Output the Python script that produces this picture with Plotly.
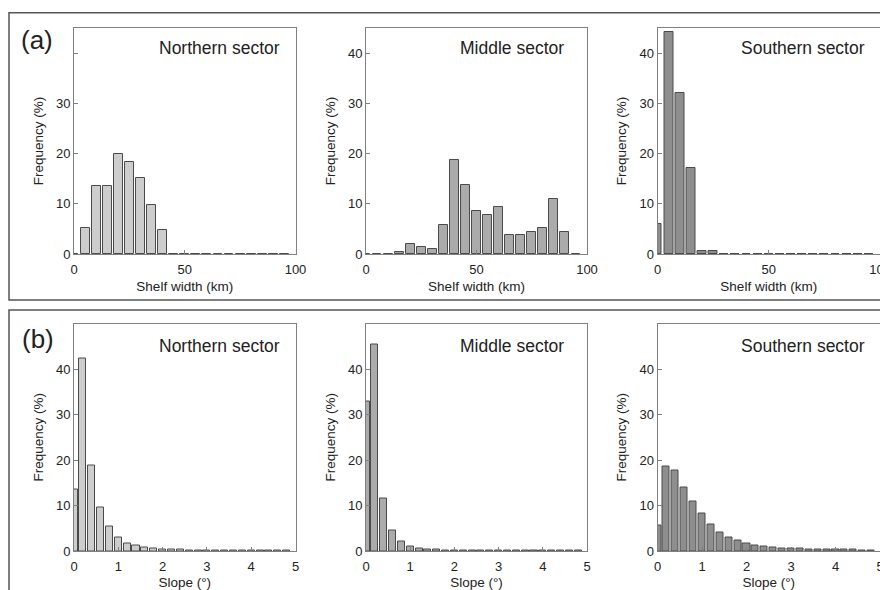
import plotly.graph_objects as go

# ---------------- data ----------------
width_bins = [0, 5, 10, 15, 20, 25, 30, 35, 40, 45, 50, 55, 60, 65, 70, 75, 80, 85, 90, 95]
north_width = [0, 5.1, 13.6, 13.6, 19.9, 18.3, 15.2, 9.7, 4.7, 0, 0, 0, 0, 0, 0, 0, 0, 0, 0, 0]
middle_width = [0, 0, 0.08, 0.35, 1.9, 1.4, 0.9, 5.7, 18.8, 13.7, 8.6, 7.7, 9.4, 3.7, 3.7, 4.3, 5.1, 10.9, 4.3, 0]
south_width = [6.0, 44.3, 32.0, 17.1, 0.5, 0.5, 0, 0, 0, 0, 0, 0, 0, 0, 0, 0, 0, 0, 0, 0]

slope_bins = [0.0, 0.2, 0.4, 0.6, 0.8, 1.0, 1.2, 1.4, 1.6, 1.8, 2.0, 2.2, 2.4, 2.6, 2.8,
              3.0, 3.2, 3.4, 3.6, 3.8, 4.0, 4.2, 4.4, 4.6, 4.8]
north_slope = [13.5, 42.4, 18.8, 9.6, 5.3, 3.0, 1.7, 1.2, 0.8, 0.55, 0.4, 0.3, 0.25, 0.2, 0.18,
               0.15, 0.12, 0.1, 0.1, 0.08, 0.07, 0.06, 0.05, 0.05, 0.04]
middle_slope = [32.8, 45.4, 11.5, 4.4, 2.1, 1.1, 0.6, 0.36, 0.25, 0.2, 0.15, 0.12, 0.1, 0.08, 0.07,
                0.06, 0.05, 0.05, 0.04, 0.04, 0.03, 0.03, 0.03, 0.02, 0.02]
south_slope = [5.5, 18.6, 17.7, 14.0, 10.9, 8.2, 5.8, 4.1, 3.0, 2.2, 1.75, 1.3, 1.0, 0.8, 0.66,
               0.5, 0.45, 0.4, 0.35, 0.3, 0.3, 0.25, 0.25, 0.2, 0.2]

sector_names = ["Northern sector", "Middle sector", "Southern sector"]
panel_labels = ["(a)", "(b)"]
width_title = "Shelf width (km)"
slope_title = "Slope (°)"
freq_title = "Frequency (%)"
width_ticks = [0, 50, 100]
slope_ticks = [0, 1, 2, 3, 4, 5]

# ---------------- styling ----------------
FONT = "Liberation Sans, Arial, sans-serif"
TXT = "#222222"
fills = ["#cdcdcd", "#ababab", "#8e8e8e"]
edge = "#4a4a4a"
frame = "#808080"

W, H = 880, 590
col_dom = [[74 / W, 295.5 / W], [366 / W, 587 / W], [657.5 / W, 1.0]]
row_dom = [[1 - 254 / H, 1 - 28 / H], [1 - 551 / H, 1 - 323.5 / H]]

fig = go.Figure()

top_data = [north_width, middle_width, south_width]
bot_data = [north_slope, middle_slope, south_slope]

idx = 0
for r in range(2):
    for c in range(3):
        idx += 1
        xa = "x" if idx == 1 else f"x{idx}"
        ya = "y" if idx == 1 else f"y{idx}"
        if r == 0:
            xs, ys, bw = width_bins, top_data[c], 4.0
        else:
            xs, ys, bw = slope_bins, bot_data[c], 0.16
        fig.add_trace(go.Bar(
            x=xs, y=ys, width=bw, xaxis=xa, yaxis=ya,
            marker=dict(color=fills[c], line=dict(color=edge, width=1)),
            showlegend=False, hoverinfo="x+y",
        ))
        key = "" if idx == 1 else str(idx)
        if r == 0:
            xr, xt, xtitle = [0, 100], width_ticks, width_title
            yr = [0, 45]
            if c == 0:
                yt, ytt = [0, 10, 20, 30, 40], ["0", "10", "20", "30", ""]
            else:
                yt, ytt = [0, 10, 20, 30, 40], ["0", "10", "20", "30", "40"]
        else:
            xr, xt, xtitle = [0, 5], slope_ticks, slope_title
            yr = [0, 50]
            yt, ytt = [0, 10, 20, 30, 40], ["0", "10", "20", "30", "40"]
        fig.layout["xaxis" + key] = dict(
            domain=col_dom[c], anchor=ya, range=xr, tickvals=xt,
            ticks="inside", ticklen=4, tickcolor=frame, showline=True, linecolor=frame,
            linewidth=1, mirror=True, showgrid=False, zeroline=False, automargin=False,
            ticklabelstandoff=3, ticklabeloverflow="allow",
            tickfont=dict(family=FONT, size=13, color=TXT),
            title=dict(text=xtitle, font=dict(family=FONT, size=13.5, color=TXT), standoff=5),
            fixedrange=True,
        )
        fig.layout["yaxis" + key] = dict(
            domain=row_dom[r], anchor=xa, range=yr, tickvals=yt, ticktext=ytt,
            ticks="inside", ticklen=4, tickcolor=frame, showline=True, linecolor=frame,
            linewidth=1, mirror=True, showgrid=False, zeroline=False, automargin=False,
            ticklabeloverflow="allow",
            tickfont=dict(family=FONT, size=13, color=TXT),
            title=dict(text=freq_title, font=dict(family=FONT, size=13.5, color=TXT), standoff=9),
            fixedrange=True,
        )

annotations = []
name_x = [282 / W, 566 / W, 867 / W]
name_y = [1 - 47.7 / H, 1 - 345.5 / H]
for r in range(2):
    for c in range(3):
        annotations.append(dict(
            text=sector_names[c], x=name_x[c], y=name_y[r], xref="paper", yref="paper",
            xanchor="right", yanchor="middle", showarrow=False,
            font=dict(family=FONT, size=17.5, color=TXT),
        ))
label_pos = [(37 / W, 1 - 40 / H), (38 / W, 1 - 339 / H)]
for i, (lx, ly) in enumerate(label_pos):
    annotations.append(dict(
        text=panel_labels[i], x=lx, y=ly, xref="paper", yref="paper",
        xanchor="center", yanchor="middle", showarrow=False,
        font=dict(family=FONT, size=26, color=TXT),
    ))

shapes = [
    dict(type="rect", xref="paper", yref="paper", x0=9 / W, x1=1.02, y0=1 - 300 / H, y1=1 - 12.7 / H,
         line=dict(color="#555555", width=1.5)),
    dict(type="rect", xref="paper", yref="paper", x0=9 / W, x1=1.02, y0=-0.02, y1=1 - 310 / H,
         line=dict(color="#555555", width=1.5)),
]

fig.update_layout(
    width=W, height=H, margin=dict(l=0, r=0, t=0, b=0, autoexpand=False),
    paper_bgcolor="white", plot_bgcolor="white",
    bargap=0, annotations=annotations, shapes=shapes,
    font=dict(family=FONT, color=TXT),
)

fig.write_html(
    "out.html",
    config={"displayModeBar": False},
    post_script="document.body.style.margin='0';document.body.style.overflow='hidden';",
)
